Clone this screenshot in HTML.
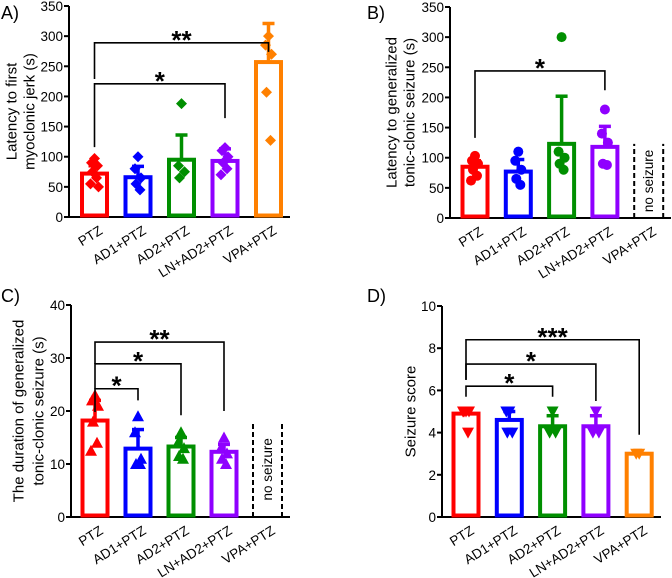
<!DOCTYPE html>
<html><head><meta charset="utf-8"><style>
body{margin:0;background:#fff}
svg{display:block;font-family:"Liberation Sans",Arial,sans-serif}
</style></head><body>
<svg id="chart" width="672" height="578" viewBox="0 0 672 578" xmlns="http://www.w3.org/2000/svg"></svg>
<script>
const categories = ["PTZ","AD1+PTZ","AD2+PTZ","LN+AD2+PTZ","VPA+PTZ"];
const colors = ["#ff0000","#0000ff","#008f00","#8f00ff","#ff8000"];

const aMeans = [72,66,95,93,257];
const aErr = [85,84,136,113,321];
const aPoints = [[97,90,85,75,65,55,50],[100,80,65,55,45],[188,85,75,65],[115,110,100,90,80,70],[300,285,270,207,127]];
const aBrackets = [[0,4,229,289,274,"**"],[0,3,116,221,164,"*"]];

const bMeans = [85,77,123,118,null];
const bErr = [95,97,202,152,null];
const bPoints = [[103,95,90,80,70,62],[110,95,80,65,55],[300,110,100,90,80],[180,140,125,90,88],[]];
const bBrackets = [[0,3,133,244,212,"*"]];

const cMeans = [18.2,12.9,13.3,12.3,null];
const cErr = [22,16.5,15,13.7,null];
const cPoints = [[23,22,21,18,14,12.5],[19,16,11,10,10],[16,14,13,11.5,11],[15,13,12,11,10],[]];
const cBrackets = [[0,1,19.8,24.2,22,"*"],[0,2,24.2,28.9,19.2,"*"],[0,3,28.9,33,20,"**"]];

const dMeans = [4.9,4.6,4.3,4.3,3.0];
const dErr = [5.1,5.0,4.8,4.8,3.0];
const dPoints = [[5,5,5,5,4],[5,5,4,4],[5,4,4],[5,4,4],[3,3]];
const dBrackets = [[0,4,6.5,8.4,3.9,"***"],[0,3,6.5,7.25,5.5,"*"],[0,2,5.7,6.2,5.7,"*"]];

const yTicksA = [0,50,100,150,200,250,300,350];
const yTicksC = [0,10,20,30,40];
const yTicksD = [0,2,4,6,8,10];

const svg = document.getElementById('chart');
const NS = "http://www.w3.org/2000/svg";
function mk(tag, attrs, parent){const e=document.createElementNS(NS,tag);for(const k in attrs)e.setAttribute(k,attrs[k]);(parent||svg).appendChild(e);return e;}
const jit = [0,-3,3,-2,2,-4,4];

function panel(cfg){
  const g = mk('g',{});
  
  
  const y = v => cfg.y0 - v / cfg.ymax * (cfg.y0 - cfg.ytop);
  const x = i => cfg.x0 + i * cfg.step;
  const pl = mk('text',{x:cfg.lx,y:cfg.ly,'font-size':18,fill:'#000'},g); pl.textContent=cfg.label;
  
  
  const ya = mk('line',{x1:cfg.ax,x2:cfg.ax,y1:cfg.ytop,y2:cfg.y0+1,stroke:'#000','stroke-width':2},g);
  
  
  const xa = mk('line',{x1:cfg.ax-1,x2:cfg.axEnd,y1:cfg.y0,y2:cfg.y0,stroke:'#000','stroke-width':2},g);
  
  
  cfg.ticks.forEach(t=>{
    mk('line',{x1:cfg.ax-5,x2:cfg.ax,y1:y(t),y2:y(t),stroke:'#000','stroke-width':2},g);
    const tl = mk('text',{x:cfg.ax-6,y:y(t)+5,'font-size':13.5,'text-anchor':'end'},g); tl.textContent=t;
    
    
  });
  cfg.title.forEach((line,k)=>{
    const tx = cfg.tx[k], ty=(cfg.y0+cfg.ytop)/2;
    const t = mk('text',{x:tx,y:ty,'font-size':15,'text-anchor':'middle',transform:`rotate(-90 ${tx} ${ty})`,'dominant-baseline':'central'},g);
    t.textContent=line;
    
    
  });
  categories.forEach((c,i)=>{
    const cx = x(i), col = colors[i];
    const lab = mk('text',{x:cx+9,y:cfg.y0+16,'font-size':13.5,'text-anchor':'end',transform:`rotate(-32 ${cx+9} ${cfg.y0+16})`},g);
    lab.textContent=c;
    
    
    const m = cfg.means[i];
    if(m===null){
      [cx-14,cx+15].forEach(xx=>{
        const d = mk('line',{x1:xx,x2:xx,y1:cfg.y0,y2:y(cfg.noTop),stroke:'#000','stroke-width':2,'stroke-dasharray':'5,3'},g);
        
        
      });
      const my=(cfg.y0+y(cfg.noTop))/2;
      const nt = mk('text',{x:cx+5,y:my,'font-size':13.5,'text-anchor':'middle',transform:`rotate(-90 ${cx+5} ${my})`},g);
      nt.textContent='no seizure';
      
      
      return;
    }
    const e = cfg.err[i];
    const el = mk('line',{x1:cx,x2:cx,y1:y(m),y2:y(e),stroke:col,'stroke-width':3.5},g);
    
    
    mk('line',{x1:cx-6,x2:cx+6,y1:y(e),y2:y(e),stroke:col,'stroke-width':3.5},g);
    const r = mk('rect',{x:cx-12.5,y:y(m),width:25,height:cfg.y0-y(m)-1.5,fill:'none',stroke:col,'stroke-width':4},g);
    
    
    cfg.points[i].forEach((p,k)=>{
      const px = cx + jit[k%jit.length], py=y(p);
      let s;
      if(cfg.marker==='diamond') s=mk('polygon',{points:`${px},${py-5.5} ${px+5.5},${py} ${px},${py+5.5} ${px-5.5},${py}`,fill:col},g);
      else if(cfg.marker==='circle') s=mk('circle',{cx:px,cy:py,r:5,fill:col},g);
      else if(cfg.marker==='up') s=mk('polygon',{points:`${px},${py-6} ${px+6},${py+5} ${px-6},${py+5}`,fill:col},g);
      else s=mk('polygon',{points:`${px-6},${py-5} ${px+6},${py-5} ${px},${py+6}`,fill:col},g);
      
      
    });
  });
  cfg.brackets.forEach(b=>{
    const [i,j,lb,top,rb,lab]=b;
    const p = mk('path',{d:`M${x(i)} ${y(lb)} V${y(top)} H${x(j)} V${y(rb)}`,fill:'none',stroke:'#000','stroke-width':1.6},g);
    
    
    const t = mk('text',{x:(x(i)+x(j))/2,y:y(top)+6,'font-size':26,'font-weight':'bold','text-anchor':'middle'},g);
    t.textContent=lab;
    
    
  });
}

panel({name:'panel-a',label:'A)',lx:1,ly:19,ax:69,axEnd:290,y0:217,ytop:6,ymax:350,x0:94.5,step:43.5,ticks:yTicksA,
  title:['Latency to first','myoclonic jerk (s)'],tx:[12,30],means:aMeans,err:aErr,points:aPoints,brackets:aBrackets,marker:'diamond'});
panel({name:'panel-b',label:'B)',lx:367,ly:19,ax:450,axEnd:671,y0:218,ytop:7,ymax:350,x0:475,step:43.3,ticks:yTicksA,
  title:['Latency to generalized','tonic-clonic seizure (s)'],tx:[392,410],means:bMeans,err:bErr,points:bPoints,brackets:bBrackets,marker:'circle',noTop:123});
panel({name:'panel-c',label:'C)',lx:1,ly:302,ax:71,axEnd:290,y0:517,ytop:305,ymax:40,x0:95,step:43,ticks:yTicksC,
  title:['The duration of generalized','tonic-clonic seizure (s)'],tx:[19,39],means:cMeans,err:cErr,points:cPoints,brackets:cBrackets,marker:'up',noTop:18});
panel({name:'panel-d',label:'D)',lx:367,ly:302,ax:442,axEnd:661,y0:517,ytop:306,ymax:10,x0:466,step:43.3,ticks:yTicksD,
  title:['Seizure score'],tx:[411],means:dMeans,err:dErr,points:dPoints,brackets:dBrackets,marker:'down'});
</script>
</body></html>
